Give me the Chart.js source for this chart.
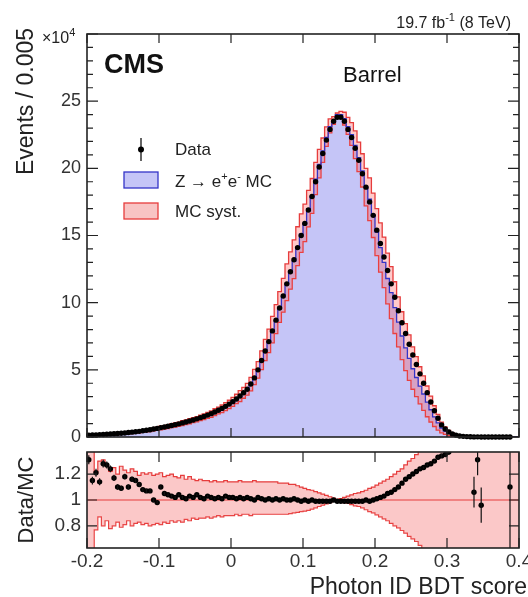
<!DOCTYPE html>
<html>
<head>
<meta charset="utf-8">
<script src="https://cdn.jsdelivr.net/npm/chart.js@4.4.0/dist/chart.umd.min.js"></script>
<style>
  html, body { margin: 0; padding: 0; background: #fff; }
  #wrap { position: relative; width: 528px; height: 597px; overflow: hidden; }
  #mainChart { position: absolute; left: 0; top: 0; }
  #ratioChart { position: absolute; left: 0; top: 445px; }
</style>
</head>
<body>
<div id="wrap">
  <canvas id="mainChart" width="528" height="445"></canvas>
  <canvas id="ratioChart" width="528" height="152"></canvas>
</div>
<script>
// histogram binning: 120 bins of 0.005 from -0.2 to 0.4
var binLow = -0.2;
var binWidth = 0.005;

var xTickValues = [-0.2, -0.1, 0, 0.1, 0.2, 0.3, 0.4];
var yTickValues = [0, 5, 10, 15, 20, 25];
var ratioTickValues = [0.8, 1, 1.2];

// events per bin, in units of 10^4
var dataEvents = [
  0.14, 0.15, 0.16, 0.18, 0.19, 0.21, 0.22, 0.24, 0.26, 0.28,
  0.30, 0.33, 0.36, 0.39, 0.42, 0.46, 0.50, 0.54, 0.59, 0.64,
  0.70, 0.75, 0.80, 0.86, 0.92, 0.98, 1.05, 1.12, 1.19, 1.27,
  1.35, 1.44, 1.53, 1.63, 1.74, 1.86, 1.99, 2.13, 2.28, 2.45,
  2.63, 2.83, 3.05, 3.29, 3.55, 3.95, 4.40, 5.00, 5.70, 6.40,
  7.10, 7.90, 8.70, 9.60, 10.5, 11.4, 12.3, 13.2, 14.1, 15.0,
  15.9, 16.9, 17.9, 19.0, 20.1, 21.1, 22.1, 22.9, 23.5, 23.8,
  23.8, 23.5, 22.9, 22.3, 21.5, 20.6, 19.6, 18.6, 17.5, 16.5,
  15.4, 14.4, 13.4, 12.4, 11.4, 10.4, 9.4, 8.5, 7.7, 6.9,
  6.1, 5.4, 4.7, 4.0, 3.3, 2.6, 1.95, 1.4, 0.9, 0.6,
  0.38, 0.23, 0.14, 0.08, 0.05, 0.03, 0.018, 0.008, 0.012, 0.005,
  0, 0, 0, 0, 0, 0, 0, 0.0003, null, null
];

var mcEvents = [
  0.115, 0.125, 0.135, 0.15, 0.16, 0.175, 0.185, 0.20, 0.22, 0.24,
  0.26, 0.29, 0.32, 0.35, 0.38, 0.42, 0.46, 0.50, 0.56, 0.61,
  0.66, 0.71, 0.77, 0.83, 0.89, 0.95, 1.02, 1.09, 1.16, 1.24,
  1.32, 1.41, 1.50, 1.60, 1.70, 1.83, 1.95, 2.09, 2.23, 2.40,
  2.59, 2.79, 3.00, 3.24, 3.50, 3.90, 4.38, 4.92, 5.63, 6.38,
  7.05, 7.88, 8.65, 9.58, 10.45, 11.4, 12.3, 13.1, 14.1, 15.1,
  15.9, 17.0, 17.9, 19.2, 20.3, 21.3, 22.3, 23.1, 23.5, 24.0,
  24.0, 23.7, 23.1, 22.5, 21.7, 20.8, 19.8, 18.6, 17.7, 16.5,
  15.25, 14.1, 13.0, 11.8, 10.75, 9.63, 8.55, 7.52, 6.64, 5.85,
  5.08, 4.43, 3.79, 3.20, 2.60, 2.03, 1.50, 1.05, 0.67, 0.44,
  0.28, 0.16, 0.093, 0.05, 0.032, 0.018, 0.011, 0.0075, 0.0046, 0.0042,
  0.003, 0.0025, 0.002, 0.0018, 0.0015, 0.0012, 0.001, 0.0009, 0.0008, 0.0007
];

// Data/MC
var ratioValues = [
  1.31, 1.15, 1.21, 1.14, 1.28, 1.27, 1.24, 1.17, 1.10, 1.09,
  1.18, 1.10, 1.16, 1.15, 1.12, 1.08, 1.07, 1.07, 1.00, 0.98,
  1.10, 1.05, 1.04, 1.03, 1.02, 1.04, 1.02, 1.01, 1.03, 1.02,
  1.04, 1.02, 1.01, 1.03, 1.02, 1.01, 1.02, 1.01, 1.03, 1.02,
  1.02, 1.01, 1.02, 1.01, 1.02, 1.01, 1.00, 1.02, 1.01, 1.00,
  1.01, 1.00, 1.01, 1.00, 1.01, 1.00, 1.00, 1.01, 1.00, 0.99,
  1.00, 0.99, 1.00, 0.99, 0.99, 0.99, 0.99, 0.99, 1.00, 0.99,
  0.99, 0.99, 0.99, 0.99, 0.99, 0.99, 0.99, 1.00, 0.99, 1.00,
  1.01, 1.02, 1.03, 1.05, 1.06, 1.08, 1.10, 1.13, 1.16, 1.18,
  1.20, 1.22, 1.24, 1.25, 1.27, 1.28, 1.30, 1.33, 1.34, 1.35,
  1.37, 1.45, 1.50, 1.60, 1.55, 1.70, 1.60, 1.06, 1.31, 0.96,
  null, null, null, null, null, null, null, 1.10, null, null
];

// MC systematic band, relative to MC
var systUp = [
  1.45, 1.40, 1.21, 1.30, 1.31, 1.27, 1.22, 1.25, 1.20, 1.26,
  1.23, 1.21, 1.24, 1.22, 1.19, 1.21, 1.20, 1.21, 1.19, 1.20,
  1.21, 1.18, 1.19, 1.20, 1.18, 1.17, 1.19, 1.16, 1.18, 1.16,
  1.15, 1.16, 1.15, 1.15, 1.14, 1.15, 1.14, 1.14, 1.15, 1.14,
  1.14, 1.14, 1.15, 1.14, 1.14, 1.14, 1.15, 1.14, 1.14, 1.14,
  1.14, 1.14, 1.14, 1.13, 1.13, 1.13, 1.12, 1.12, 1.11, 1.10,
  1.09, 1.08, 1.075, 1.065, 1.055, 1.045, 1.035, 1.025, 1.015, 1.005,
  1.01, 1.02, 1.03, 1.04, 1.05, 1.055, 1.065, 1.075, 1.09, 1.10,
  1.115, 1.13, 1.145, 1.16, 1.18, 1.20, 1.22, 1.24, 1.27, 1.30,
  1.32, 1.35, 1.38, 1.42, 1.46, 1.50, 1.55, 1.60, 1.66, 1.72,
  1.78, 1.85, 1.92, 2.0, 2.1, 2.2, 2.3, 2.4, 2.5, 2.6,
  2.7, 2.8, 2.9, 3.0, 3.0, 3.0, 3.0, 3.0, 3.0, 3.0
];
var systDown = [
  0.55, 0.60, 0.77, 0.87, 0.80, 0.84, 0.78, 0.80, 0.83, 0.79,
  0.81, 0.84, 0.80, 0.82, 0.83, 0.81, 0.82, 0.80, 0.81, 0.82,
  0.81, 0.83, 0.82, 0.84, 0.83, 0.84, 0.83, 0.85, 0.84, 0.86,
  0.85, 0.86, 0.86, 0.87, 0.86, 0.87, 0.88, 0.87, 0.88, 0.88,
  0.88, 0.89, 0.88, 0.89, 0.89, 0.88, 0.89, 0.89, 0.89, 0.89,
  0.89, 0.89, 0.89, 0.89, 0.89, 0.89, 0.895, 0.90, 0.905, 0.91,
  0.915, 0.92, 0.93, 0.94, 0.95, 0.96, 0.97, 0.98, 0.99, 0.995,
  0.99, 0.98, 0.975, 0.965, 0.955, 0.95, 0.94, 0.925, 0.91, 0.90,
  0.885, 0.87, 0.855, 0.84, 0.82, 0.80, 0.785, 0.765, 0.745, 0.72,
  0.70, 0.68, 0.65, 0.62, 0.58, 0.55, 0.52, 0.49, 0.46, 0.43,
  0.40, 0.37, 0.34, 0.31, 0.28, 0.25, 0.22, 0.20, 0.18, 0.16,
  0.15, 0.15, 0.15, 0.15, 0.15, 0.15, 0.15, 0.15, 0.15, 0.15
];

var FONT = '"Liberation Sans", Arial, Helvetica, sans-serif';
Chart.defaults.font.family = FONT;
Chart.defaults.color = '#333';

var RED = '#e63c3c';
var BLUE = '#3434c8';

// stepped outline: one point per bin low edge, plus the closing edge
function histPoints(vals) {
  var pts = vals.map(function (v, i) { return { x: binLow + i * binWidth, y: v }; });
  pts.push({ x: binLow + vals.length * binWidth, y: vals[vals.length - 1] });
  return pts;
}
function centerPoints(vals) {
  var pts = [];
  vals.forEach(function (v, i) {
    if (v !== null) pts.push({ x: binLow + (i + 0.5) * binWidth, y: v });
  });
  return pts;
}

var mcUp = mcEvents.map(function (v, i) { return v * systUp[i]; });
var mcDown = mcEvents.map(function (v, i) { return v * systDown[i]; });

// draws the closed frame and inward tick marks
function drawFrame(chart, cfg) {
  var ctx = chart.ctx, a = chart.chartArea;
  var xs = chart.scales.x, ys = chart.scales.y;
  ctx.save();
  ctx.strokeStyle = '#222';
  ctx.lineWidth = 1.2;
  ctx.beginPath();
  cfg.xMajor.forEach(function (v) {
    var px = xs.getPixelForValue(v);
    ctx.moveTo(px, a.bottom); ctx.lineTo(px, a.bottom - cfg.xLen);
    ctx.moveTo(px, a.top); ctx.lineTo(px, a.top + cfg.xLen);
  });
  cfg.yTicks.forEach(function (t) {
    var py = ys.getPixelForValue(t.v);
    ctx.moveTo(a.left, py); ctx.lineTo(a.left + t.len, py);
    ctx.moveTo(a.right, py); ctx.lineTo(a.right - t.len, py);
  });
  ctx.stroke();
  ctx.lineWidth = 1.6;
  ctx.strokeRect(a.left, a.top, a.right - a.left, a.bottom - a.top);
  ctx.restore();
}

// text with superscripts
function richText(ctx, parts, x, y, size, align) {
  var widths = parts.map(function (p) {
    ctx.font = (p.sup ? Math.round(size * 0.66) : size) + 'px ' + FONT;
    return ctx.measureText(p.t).width;
  });
  var total = widths.reduce(function (s, w) { return s + w; }, 0);
  var cx = align === 'right' ? x - total : x;
  ctx.textAlign = 'left';
  parts.forEach(function (p, i) {
    ctx.font = (p.sup ? Math.round(size * 0.66) : size) + 'px ' + FONT;
    ctx.fillText(p.t, cx, p.sup ? y - size * 0.42 : y);
    cx += widths[i];
  });
}

var mainYTicks = [];
for (var k = 0; k <= 30; k++) mainYTicks.push({ v: k, len: k % 5 === 0 ? 11 : 6 });

var mainDecor = {
  id: 'mainDecor',
  afterDraw: function (chart) {
    var ctx = chart.ctx;
    drawFrame(chart, { xMajor: xTickValues, xLen: 9, yTicks: mainYTicks });
    ctx.save();
    ctx.fillStyle = '#111';
    ctx.textBaseline = 'alphabetic';
    ctx.font = 'bold 27px ' + FONT;
    ctx.fillText('CMS', 104, 73);
    ctx.font = '22px ' + FONT;
    ctx.fillText('Barrel', 343, 82);
    ctx.fillStyle = '#222';
    richText(ctx, [{ t: '19.7 fb' }, { t: '-1', sup: true }, { t: ' (8 TeV)' }], 511, 28, 16, 'right');
    richText(ctx, [{ t: '\u00d710' }, { t: '4', sup: true }], 42, 43, 16, 'left');

    // y axis title
    ctx.save();
    ctx.translate(27, 28);
    ctx.rotate(-Math.PI / 2);
    ctx.font = '23px ' + FONT;
    ctx.textAlign = 'right';
    ctx.textBaseline = 'middle';
    ctx.fillText('Events / 0.005', 0, 0);
    ctx.restore();

    // legend
    ctx.strokeStyle = '#111';
    ctx.lineWidth = 1.3;
    ctx.beginPath();
    ctx.moveTo(141, 138); ctx.lineTo(141, 161);
    ctx.stroke();
    ctx.beginPath();
    ctx.arc(141, 149.5, 3, 0, Math.PI * 2);
    ctx.fillStyle = '#000';
    ctx.fill();

    ctx.fillStyle = '#c5c5f7';
    ctx.fillRect(124, 172, 34, 16);
    ctx.strokeStyle = BLUE;
    ctx.lineWidth = 1.3;
    ctx.strokeRect(124, 172, 34, 16);
    ctx.fillStyle = '#f8c4c4';
    ctx.fillRect(124, 203, 34, 16);
    ctx.strokeStyle = RED;
    ctx.strokeRect(124, 203, 34, 16);

    ctx.fillStyle = '#222';
    ctx.textAlign = 'left';
    ctx.font = '17px ' + FONT;
    ctx.fillText('Data', 175, 155);
    richText(ctx, [{ t: 'Z \u2192 e' }, { t: '+', sup: true }, { t: 'e' }, { t: '-', sup: true }, { t: ' MC' }], 175, 187, 17, 'left');
    ctx.font = '17px ' + FONT;
    ctx.fillText('MC syst.', 175, 217);
    ctx.restore();
  }
};

var ratioDecor = {
  id: 'ratioDecor',
  afterDatasetsDraw: function (chart) {
    // statistical error bars of the data ratio
    var ctx = chart.ctx, a = chart.chartArea;
    var xs = chart.scales.x, ys = chart.scales.y;
    ctx.save();
    ctx.beginPath();
    ctx.rect(a.left, a.top, a.right - a.left, a.bottom - a.top);
    ctx.clip();
    ctx.strokeStyle = '#111';
    ctx.lineWidth = 1.2;
    ctx.beginPath();
    ratioValues.forEach(function (r, i) {
      var n = dataEvents[i];
      if (r === null || !n) return;
      var err = r / Math.sqrt(n * 1e4);
      var px = xs.getPixelForValue(binLow + (i + 0.5) * binWidth);
      ctx.moveTo(px, ys.getPixelForValue(r - err));
      ctx.lineTo(px, ys.getPixelForValue(r + err));
    });
    ctx.stroke();
    ctx.restore();
  },
  afterDraw: function (chart) {
    var ctx = chart.ctx;
    drawFrame(chart, {
      xMajor: xTickValues, xLen: 10,
      yTicks: ratioTickValues.map(function (v) { return { v: v, len: 10 }; })
    });
    ctx.save();
    ctx.fillStyle = '#222';
    ctx.translate(27, 55);
    ctx.rotate(-Math.PI / 2);
    ctx.font = '22px ' + FONT;
    ctx.textAlign = 'center';
    ctx.textBaseline = 'middle';
    ctx.fillText('Data/MC', 0, 0);
    ctx.restore();
    ctx.save();
    ctx.fillStyle = '#222';
    ctx.font = '23px ' + FONT;
    ctx.textAlign = 'right';
    ctx.textBaseline = 'alphabetic';
    ctx.fillText('Photon ID BDT score', 527, 149);
    ctx.restore();
  }
};

function fixedY(width) {
  return function (s) {
    s.width = width;
    s.paddingTop = 0;
    s.paddingBottom = 0;
  };
}

function plainLabel(v) { return String(Math.round(v * 10) / 10); }

new Chart(document.getElementById('mainChart').getContext('2d'), {
  type: 'line',
  data: {
    datasets: [
      { label: 'Data', data: centerPoints(dataEvents), showLine: false, pointRadius: 2.7,
        pointBackgroundColor: '#000', pointBorderWidth: 0, clip: 4, order: 0 },
      { label: 'MC outline', data: histPoints(mcEvents), stepped: true, borderColor: BLUE,
        borderWidth: 1.3, pointRadius: 0, fill: false, order: 1 },
      { label: 'MC syst. up', data: histPoints(mcUp), stepped: true, borderColor: RED,
        borderWidth: 1.3, pointRadius: 0, fill: '+1', backgroundColor: 'rgba(255,90,90,0.32)', order: 2 },
      { label: 'MC syst. down', data: histPoints(mcDown), stepped: true, borderColor: RED,
        borderWidth: 1.3, pointRadius: 0, fill: false, order: 3 },
      { label: 'Z -> ee MC', data: histPoints(mcEvents), stepped: true, borderWidth: 0,
        borderColor: 'rgba(0,0,0,0)', backgroundColor: '#c5c5f7', pointRadius: 0, fill: 'origin', order: 4 }
    ]
  },
  options: {
    responsive: false,
    animation: false,
    layout: { padding: { left: 0, right: 9, top: 34, bottom: 8 } },
    plugins: { legend: { display: false }, tooltip: { enabled: false } },
    scales: {
      x: { type: 'linear', min: -0.2, max: 0.4, display: false },
      y: {
        type: 'linear', min: 0, max: 30,
        afterBuildTicks: function (s) { s.ticks = yTickValues.map(function (v) { return { value: v }; }); },
        afterFit: fixedY(87),
        grid: { display: false, drawTicks: false },
        border: { display: false },
        ticks: { padding: 6, color: '#333', font: { size: 18 }, callback: plainLabel }
      }
    }
  },
  plugins: [mainDecor]
});

new Chart(document.getElementById('ratioChart').getContext('2d'), {
  type: 'line',
  data: {
    datasets: [
      { label: 'Data/MC', data: centerPoints(ratioValues), showLine: false, pointRadius: 2.7,
        pointBackgroundColor: '#000', pointBorderWidth: 0, order: 0 },
      { label: 'unity', data: [{ x: -0.2, y: 1 }, { x: 0.4, y: 1 }], borderColor: RED,
        borderWidth: 1.2, pointRadius: 0, fill: false, order: 1 },
      { label: 'syst up', data: histPoints(systUp), stepped: true, borderColor: RED,
        borderWidth: 1.2, pointRadius: 0, fill: '+1', backgroundColor: 'rgba(245,110,110,0.38)', order: 2 },
      { label: 'syst down', data: histPoints(systDown), stepped: true, borderColor: RED,
        borderWidth: 1.2, pointRadius: 0, fill: false, order: 3 }
    ]
  },
  options: {
    responsive: false,
    animation: false,
    layout: { padding: { left: 0, right: 9, top: 7, bottom: 0 } },
    plugins: { legend: { display: false }, tooltip: { enabled: false } },
    scales: {
      x: {
        type: 'linear', min: -0.2, max: 0.4,
        afterBuildTicks: function (s) { s.ticks = xTickValues.map(function (v) { return { value: v }; }); },
        afterFit: function (s) { s.height = 49; s.paddingLeft = 0; s.paddingRight = 0; },
        grid: { display: false, drawTicks: false },
        border: { display: false },
        ticks: { padding: 2, maxRotation: 0, autoSkip: false, color: '#333', font: { size: 19 }, callback: plainLabel }
      },
      y: {
        type: 'linear', min: 0.63, max: 1.37,
        afterBuildTicks: function (s) { s.ticks = ratioTickValues.map(function (v) { return { value: v }; }); },
        afterFit: fixedY(87),
        grid: { display: false, drawTicks: false },
        border: { display: false },
        ticks: { padding: 6, color: '#333', font: { size: 19 }, callback: plainLabel }
      }
    }
  },
  plugins: [ratioDecor]
});
</script>
</body>
</html>
